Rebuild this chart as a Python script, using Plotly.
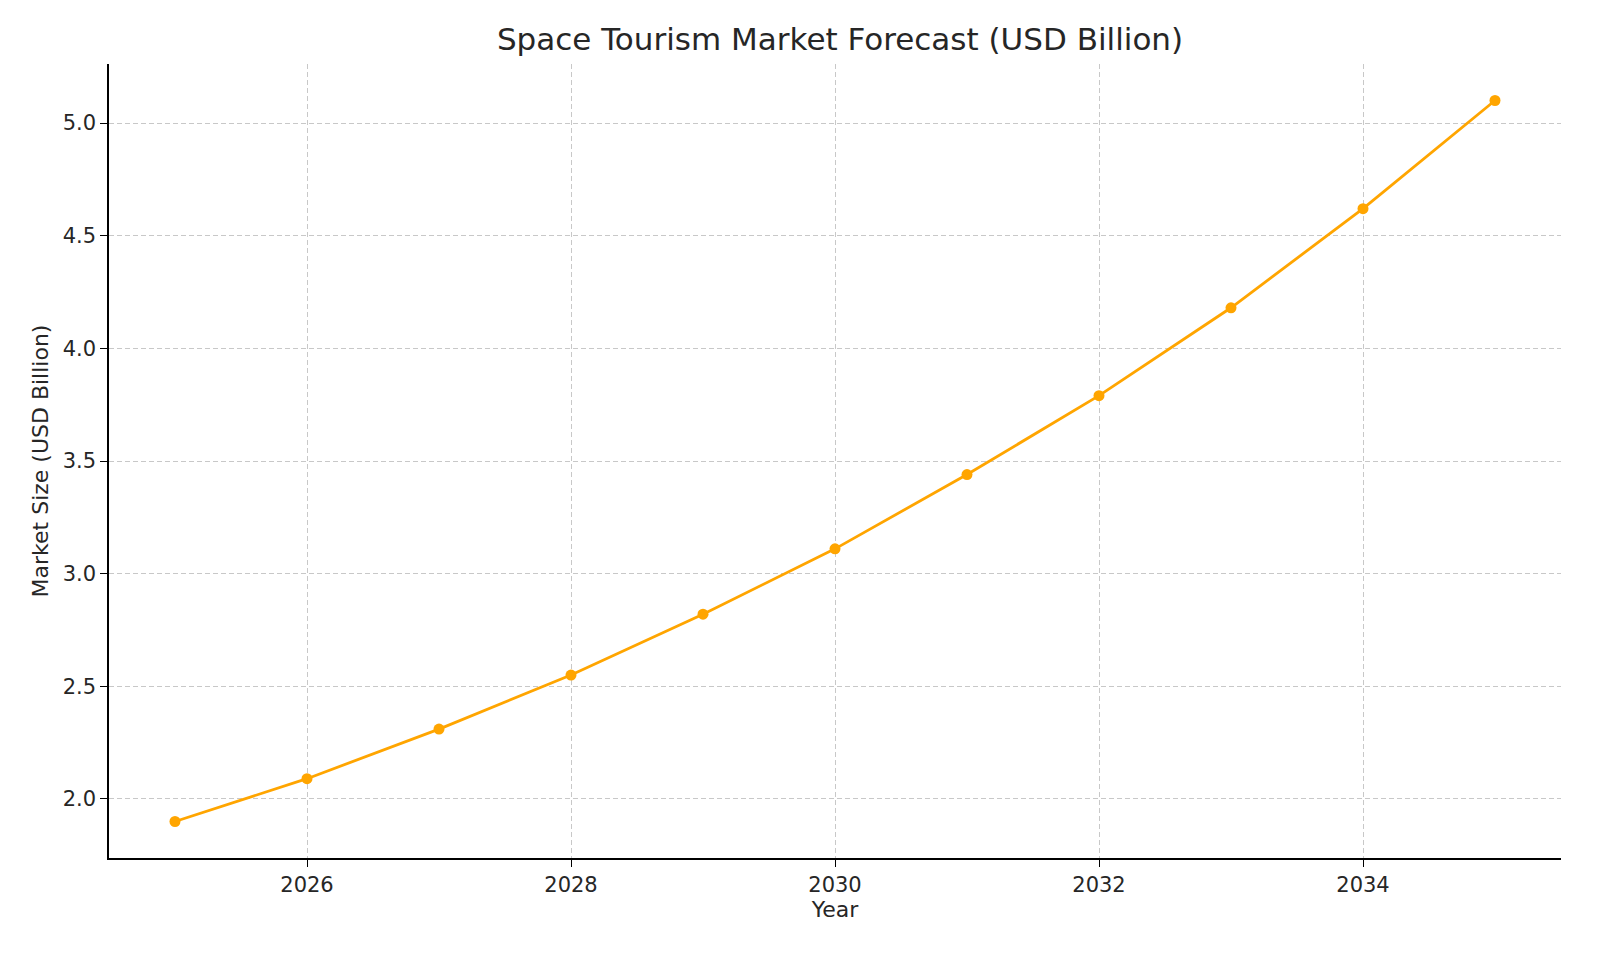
import plotly.graph_objects as go

years = [2025, 2026, 2027, 2028, 2029, 2030, 2031, 2032, 2033, 2034, 2035]
market = [1.90, 2.09, 2.31, 2.55, 2.82, 3.11, 3.44, 3.79, 4.18, 4.62, 5.10]

fig = go.Figure(go.Scatter(x=years, y=market, mode="lines+markers",
                           line=dict(color="#FFA500", width=2.8),
                           marker=dict(color="#FFA500", size=11)))
font = "DejaVu Sans"
fig.update_layout(
    width=1600, height=954, plot_bgcolor="white", paper_bgcolor="white",
    margin=dict(l=101, r=47, t=56, b=104),
    title=dict(text="Space Tourism Market Forecast (USD Billion)", x=0.52, xanchor="center",
               y=0.967, yanchor="middle", font=dict(family=font, size=31, color="#262626")),
    font=dict(family=font, size=21, color="#262626"), showlegend=False,
)
axis = dict(showline=True, linecolor="black", linewidth=1.5, ticks="outside", ticklen=7,
            tickcolor="black", showgrid=True, gridcolor="#c8c8c8", griddash="5px,3px",
            gridwidth=1, zeroline=False, mirror=False, tickfont=dict(size=21))
fig.update_xaxes(axis, range=[2024.5, 2035.5], tickvals=[2026, 2028, 2030, 2032, 2034],
                 title=dict(text="Year", font=dict(size=22), standoff=6))
fig.update_yaxes(axis, range=[1.738, 5.262], tickvals=[2.0, 2.5, 3.0, 3.5, 4.0, 4.5, 5.0],
                 tickformat=".1f", title=dict(text="Market Size (USD Billion)", font=dict(size=22), standoff=8))
fig.write_html("out.html")
